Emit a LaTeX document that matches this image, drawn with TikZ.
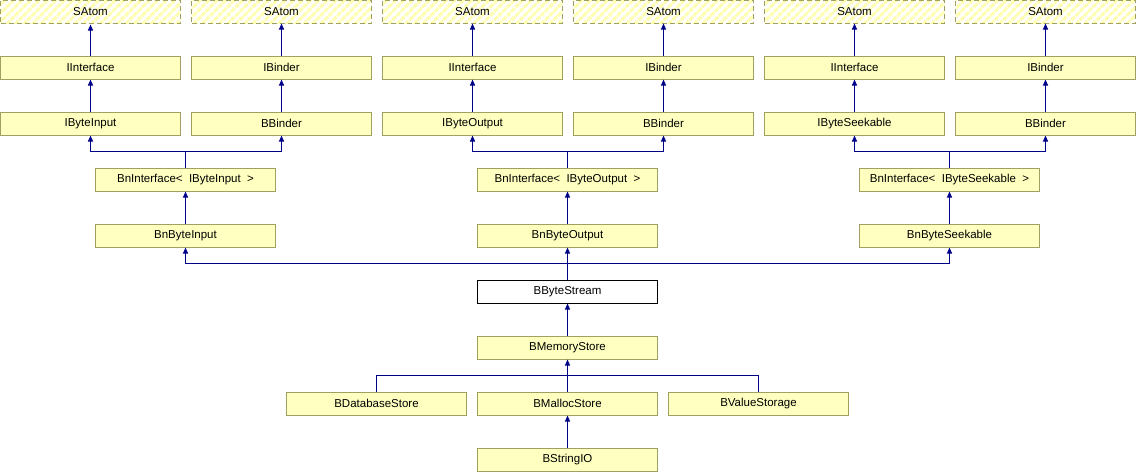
\documentclass[tikz,border=0pt]{standalone}
\usepackage{fontspec}
\setmainfont{Liberation Sans}
\usetikzlibrary{
  arrows.meta,
  calc,
  patterns.meta,
  positioning,
}
\definecolor{classfill}{RGB}{255, 255, 192}
\definecolor{classborder}{RGB}{160, 160, 96}
\definecolor{linkblue}{RGB}{0, 0, 136}
\definecolor{hatch}{RGB}{255, 255, 176}
\tikzset{
  >={Triangle[width=5pt,length=6pt]},
  x=1pt, y=1pt,
  cls/.style={draw=classborder, fill=classfill, line width=1pt,
    minimum width=180pt, minimum height=23pt, inner sep=0pt,
    font=\fontsize{11.5}{13}\selectfont},
  ext/.style={cls, fill=white, dash pattern=on 5pt off 3pt,
    pattern={Lines[angle=45, distance=6pt, line width=3pt]},
    pattern color=hatch},
  cur/.style={cls, draw=black, fill=white},
  inh/.style={->, draw=linkblue, line width=1pt},
  link/.style={draw=linkblue, line width=1pt},
}
\begin{document}
\begin{tikzpicture}
  \useasboundingbox (0,0) rectangle (1136,-472);
  \foreach \i/\x in {1/90.5, 2/281.5, 3/472.5, 4/663.5, 5/854.5, 6/1045.5}
    \node [ext] (atom\i) at (\x,-11.5) {SAtom};
  \foreach \i/\x/\t in {1/90.5/IInterface, 2/281.5/IBinder, 3/472.5/IInterface,
      4/663.5/IBinder, 5/854.5/IInterface, 6/1045.5/IBinder} {
    \node [cls] (iface\i) at (\x,-67.5) {\t};
    \draw [inh] (iface\i) -- (atom\i);
  }
  \foreach \i/\x/\t in {1/90.5/IByteInput, 2/281.5/BBinder, 3/472.5/IByteOutput,
      4/663.5/BBinder, 5/854.5/IByteSeekable, 6/1045.5/BBinder} {
    \node [cls] (base\i) at (\x,-123.5) {\t};
    \draw [inh] (base\i) -- (iface\i);
  }

  \node [cls] (bnin) at (185.5,-179.5) {BnInterface<~~IByteInput~~>};
  \node [cls] (bnout) at (567.5,-179.5) {BnInterface<~~IByteOutput~~>};
  \node [cls] (bnseek) at (949.5,-179.5) {BnInterface<~~IByteSeekable~~>};
  \foreach \n/\a/\b in {bnin/1/2, bnout/3/4, bnseek/5/6} {
    \coordinate (j\n) at ($(\n.north)+(0,16)$);
    \draw [link] (\n.north) -- (j\n);
    \draw [inh] (j\n) -| (base\a.south);
    \draw [inh] (j\n) -| (base\b.south);
  }

  \node [cls] (bytein) at (185.5,-235.5) {BnByteInput};
  \node [cls] (byteout) at (567.5,-235.5) {BnByteOutput};
  \node [cls] (byteseek) at (949.5,-235.5) {BnByteSeekable};
  \draw [inh] (bytein) -- (bnin);
  \draw [inh] (byteout) -- (bnout);
  \draw [inh] (byteseek) -- (bnseek);

  \node [cur] (stream) at (567.5,-291.5) {BByteStream};
  \coordinate (jstream) at ($(stream.north)+(0,16)$);
  \draw [link] (stream.north) -- (jstream);
  \draw [inh] (jstream) -| (bytein.south);
  \draw [inh] (jstream) -- (byteout.south);
  \draw [inh] (jstream) -| (byteseek.south);

  \node [cls] (memstore) at (567.5,-347.5) {BMemoryStore};
  \draw [inh] (memstore) -- (stream);

  \node [cls] (dbstore) at (376.5,-403.5) {BDatabaseStore};
  \node [cls] (mallocstore) at (567.5,-403.5) {BMallocStore};
  \node [cls] (valstorage) at (758.5,-403.5) {BValueStorage};
  \coordinate (jmem) at ($(mallocstore.north)+(0,16)$);
  \draw [link] (dbstore.north) |- (jmem);
  \draw [link] (valstorage.north) |- (jmem);
  \draw [inh] (mallocstore) -- (memstore);

  \node [cls] (stringio) at (567.5,-459.5) {BStringIO};
  \draw [inh] (stringio) -- (mallocstore);
\end{tikzpicture}
\end{document}
